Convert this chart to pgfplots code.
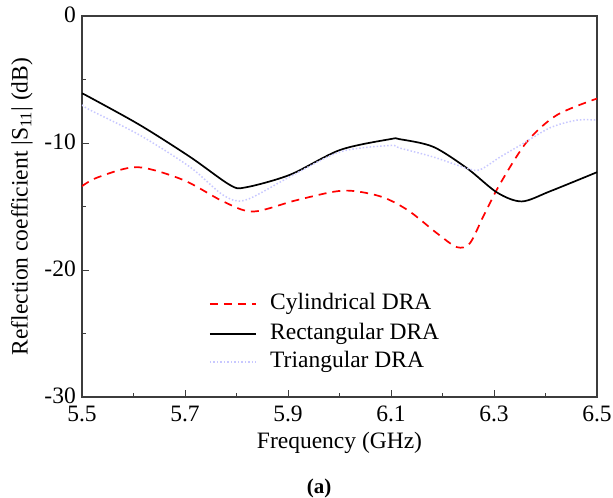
\documentclass[border=0pt]{standalone}
\usepackage{fontspec}
\setmainfont{Liberation Serif}
\usepackage{pgfplots}
\pgfplotsset{compat=1.18}
\definecolor{tri}{RGB}{200,200,255}
\definecolor{axgray}{RGB}{60,60,60}
\newcommand{\bigf}{\fontsize{23.5bp}{27bp}\selectfont}
\begin{document}
\begin{tikzpicture}
\useasboundingbox (-82bp,-101bp) rectangle (531bp,397bp);
\begin{axis}[
  scale only axis,
  width=515bp, height=381bp,
  xmin=5.5, xmax=6.5, ymin=-30, ymax=0,
  xtick={5.5,5.7,5.9,6.1,6.3,6.5},
  xticklabels={5.5,5.7,5.9,6.1,6.3,6.5},
  ytick={-30,-20,-10,0},
  yticklabels={-30,-20,-10,0},
  minor x tick num=1, minor y tick num=1,
  tick align=inside,
  xtick pos=bottom, ytick pos=left,
  major tick length=7bp, minor tick length=4bp,
  axis line style={axgray, line width=1.3bp},
  every tick/.style={axgray, line width=1bp},
  tick label style={font=\bigf, inner sep=1bp},
  xticklabel style={yshift=-8bp},
  yticklabel style={xshift=-5bp, yshift=1bp},
  label style={font=\bigf},
  xlabel={Frequency (GHz)},
  ylabel={Reflection coefficient |S\textsubscript{11}| (dB)},
  xlabel style={at={(axis description cs:0.5,-0.1207)}, anchor=center},
  ylabel style={at={(axis description cs:-0.1165,0.5)}, anchor=center},
  /pgf/number format/assume math mode=true,
]
\addplot[red, line width=1.7bp, dash pattern=on 8bp off 6bp, smooth] coordinates {
(5.50,-13.4) (5.531,-12.7) (5.607,-11.9) (5.696,-12.9) (5.774,-14.6) (5.832,-15.4)
(5.917,-14.5) (6.007,-13.75) (6.079,-14.2) (6.133,-15.3) (6.189,-17.1) (6.228,-18.2)
(6.253,-17.9) (6.279,-15.8) (6.312,-13.2) (6.364,-9.9) (6.422,-7.8) (6.5,-6.5)
};
\addplot[black, line width=1.7bp, smooth] coordinates {
(5.50,-6.1) (5.515,-6.4) (5.613,-8.6) (5.71,-11.1) (5.787,-13.3) (5.817,-13.5)
(5.904,-12.5) (6.001,-10.55) (6.098,-9.7) (6.117,-9.7) (6.182,-10.3) (6.248,-12.0)
(6.306,-13.9) (6.354,-14.6) (6.409,-13.8) (6.5,-12.3)
};
\addplot[tri, line width=1.5bp, dotted, smooth] coordinates {
(5.5,-7.0) (5.5155,-7.4) (5.613,-9.4) (5.71,-11.9) (5.774,-14.1) (5.817,-14.5)
(5.904,-12.65) (6.001,-10.7) (6.098,-10.2) (6.117,-10.4) (6.182,-11.1) (6.248,-12.0)
(6.273,-12.1) (6.312,-11.1) (6.350,-10.2) (6.409,-8.8) (6.461,-8.2) (6.5,-8.2)
};
% legend
\draw[red, line width=1.7bp, dash pattern=on 8bp off 6bp] (axis description cs:0.2485,0.245) -- (axis description cs:0.338,0.245);
\node[anchor=west, font=\bigf, inner sep=0pt] at (axis description cs:0.365,0.245) {Cylindrical DRA};
\draw[black, line width=1.7bp] (axis description cs:0.2485,0.166) -- (axis description cs:0.338,0.166);
\node[anchor=west, font=\bigf, inner sep=0pt] at (axis description cs:0.365,0.166) {Rectangular DRA};
\draw[tri, line width=1.5bp, dotted] (axis description cs:0.2485,0.0925) -- (axis description cs:0.338,0.0925);
\node[anchor=west, font=\bigf, inner sep=0pt] at (axis description cs:0.365,0.0925) {Triangular DRA};
\end{axis}
\node[font=\bfseries\fontsize{21bp}{24bp}\selectfont] at (237bp,-91bp) {(a)};
\end{tikzpicture}
\end{document}
